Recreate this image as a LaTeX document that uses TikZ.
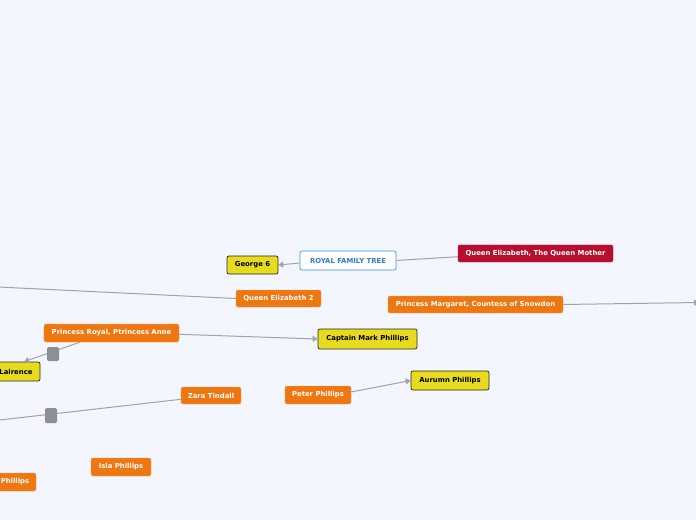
\documentclass[tikz,border=0pt]{standalone}
\usepackage{fontspec}
\setmainfont{DejaVu Sans}
\usetikzlibrary{arrows.meta,calc}
\definecolor{bgc}{HTML}{F3F6FE}
\definecolor{linec}{HTML}{A0A3AB}
\definecolor{orangec}{HTML}{EE7711}
\definecolor{crimc}{HTML}{B50E2E}
\definecolor{yellc}{HTML}{E6DB1E}
\definecolor{bluec}{HTML}{3A8EE6}
\definecolor{bluet}{HTML}{2F7CD6}
\definecolor{sqc}{HTML}{8E8E93}
\tikzset{
  box/.style={rounded corners=2bp, inner sep=0pt, font=\fontsize{6.9}{7.5}\selectfont\bfseries, align=center},
  orangebox/.style={box, fill=orangec, draw=orangec!70!white, line width=0.4bp, text=white},
  crimbox/.style={box, fill=crimc, draw=crimc, text=white},
  yellbox/.style={box, fill=yellc, draw=black!85, line width=0.7bp, text=black},
  rootbox/.style={box, fill=white, draw=bluec, line width=0.7bp, text=bluet},
  knot/.style={rounded corners=1.5bp, fill=sqc, draw=none, inner sep=0pt},
  conn/.style={draw=linec, line width=1bp},
  arr/.style={conn, -{Triangle[length=5bp,width=6bp]}}
}
\begin{document}
\begin{tikzpicture}[x=1bp,y=-1bp]
\fill[bgc] (0,0) rectangle (696,520);
\useasboundingbox (0,0) rectangle (696,520);
\clip (0,0) rectangle (696,520);

\node[rootbox, minimum width=96bp, minimum height=19bp] (rft) at (348,260.5) {ROYAL FAMILY TREE};
\node[yellbox, minimum width=51bp, minimum height=18bp] (george) at (252.5,265) {George 6};
\node[crimbox, minimum width=155bp, minimum height=17bp] (qm) at (535.5,253.5) {Queen Elizabeth, The Queen Mother};
\node[orangebox, minimum width=85bp, minimum height=17bp] (qe2) at (278.5,298.5) {Queen Elizabeth 2};
\node[orangebox, minimum width=175bp, minimum height=17bp] (pm) at (475.5,304.5) {Princess Margaret, Countess of Snowdon};
\node[orangebox, minimum width=135bp, minimum height=18bp] (anne) at (111.5,333) {Princess Royal, Ptrincess Anne};
\node[yellbox, minimum width=99bp, minimum height=20bp] (cmp) at (367.5,339) {Captain Mark Phillips};
\node[yellbox, minimum width=48bp, minimum height=19bp] (lair) at (16,371.5) {Lairence};
\node[orangebox, minimum width=60bp, minimum height=17bp] (zara) at (211,395.5) {Zara Tindall};
\node[orangebox, minimum width=66bp, minimum height=18bp] (peter) at (318,395) {Peter Phillips};
\node[yellbox, minimum width=78bp, minimum height=19bp] (aur) at (450,380.5) {Aurumn Phillips};
\node[orangebox, minimum width=60bp, minimum height=18bp] (isla) at (121,467) {Isla Phillips};
\node[orangebox, minimum width=42bp, minimum height=18bp] (phil) at (15,482) {Phillips};

\coordinate (qeend) at (-2,287);
\coordinate (pmend) at (699,302.5);
\coordinate (zaraend) at (-2,420.2);

% connectors
\draw[conn] ($(qm.west)+(0,3.2)$) -- (rft.east);
\draw[arr] ($(rft.west)+(0,2.5)$) -- (george.east);
\draw[conn] (qe2.west) -- (qeend);
\draw[arr] (pm.east) -- (pmend);
\draw[arr] ($(anne.east)+(0,1.3)$) -- (cmp.west);
\draw[arr] ($(peter.east)+(0,-3)$) -- (aur.west);

\coordinate (annebot) at ($(anne.south west)+(36,0)$);
\draw[arr] (annebot) -- ($(lair.north)+(8,0)$);
\node[knot, minimum width=12bp, minimum height=14bp] (k1) at (53,354) {};

\draw[conn] ($(zara.west)+(0,3.8)$) -- (zaraend);
\node[knot, minimum width=12bp, minimum height=15bp] (k2) at (51,415.5) {};
\end{tikzpicture}
\end{document}
